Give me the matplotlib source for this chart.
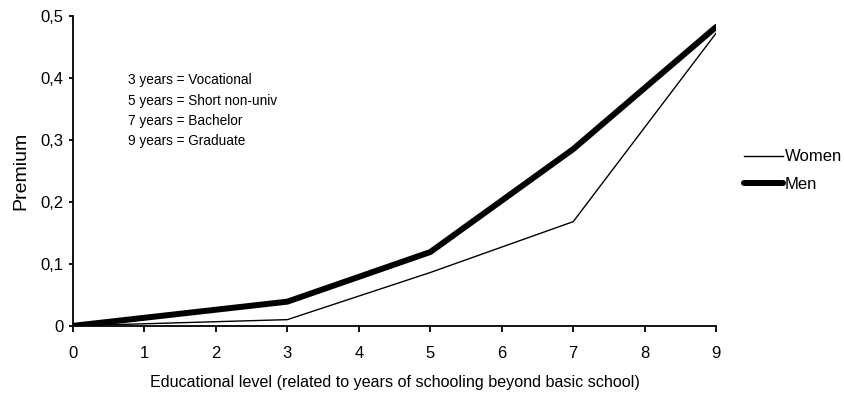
import matplotlib
matplotlib.use("Agg")
import matplotlib.pyplot as plt
from matplotlib.ticker import FuncFormatter

plt.rcParams['font.family'] = ['Liberation Sans', 'DejaVu Sans']

# Data
levels = [0, 3, 5, 7, 9]
women = [0.0, 0.01, 0.086, 0.168, 0.472]
men = [0.0, 0.039, 0.119, 0.285, 0.482]
x_ticks = list(range(10))
y_ticks = [0, 0.1, 0.2, 0.3, 0.4, 0.5]
notes = ["3 years = Vocational", "5 years = Short non-univ",
         "7 years = Bachelor", "9 years = Graduate"]

fig = plt.figure(figsize=(8.44, 3.94), dpi=100)
ax = fig.add_axes([0.0865, 0.173, 0.762, 0.787])

ax.plot(levels, women, color='black', lw=1.0, label='Women')
ax.plot(levels, men, color='black', lw=4.3, label='Men', solid_capstyle='round')

ax.set_xlim(0, 9)
ax.set_ylim(0, 0.5)
ax.set_xticks(x_ticks)
ax.set_yticks(y_ticks)

def comma_fmt(v, pos):
    if abs(v) < 1e-9:
        return "0"
    return f"{v:.1f}".replace(".", ",")

ax.yaxis.set_major_formatter(FuncFormatter(comma_fmt))

for side in ['top', 'right']:
    ax.spines[side].set_visible(False)
for side in ['left', 'bottom']:
    ax.spines[side].set_linewidth(1.3)
ax.tick_params(axis='both', direction='out', width=1.3, labelsize=12)
ax.tick_params(axis='x', length=4, pad=10.5)
ax.tick_params(axis='y', length=3, pad=4)

ax.set_xlabel("Educational level (related to years of schooling beyond basic school)",
              fontsize=11.6, labelpad=10)
ax.set_ylabel("Premium", fontsize=14, labelpad=8)

# note block, one line at a time
for i, line in enumerate(notes):
    ax.text(0.77, 0.396 - i * 0.0327, line, fontsize=9.8, va='center', ha='left')

fig.legend(*ax.get_legend_handles_labels(), loc='center left',
           bbox_to_anchor=(0.8815, 0.567), frameon=False, borderaxespad=0,
           borderpad=0, fontsize=12, handlelength=2.35, handletextpad=0.1,
           labelspacing=0.75)

fig.savefig("out.png", dpi=100)
